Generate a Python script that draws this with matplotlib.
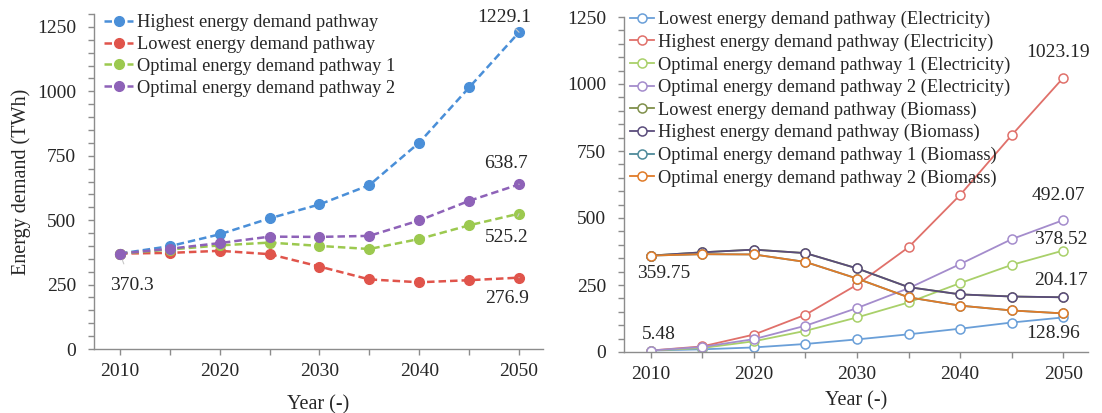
import matplotlib
matplotlib.use('Agg')
import matplotlib.pyplot as plt
from matplotlib.ticker import MultipleLocator

plt.rcParams['font.family'] = ['Liberation Serif', 'DejaVu Serif']

years = [2010, 2015, 2020, 2025, 2030, 2035, 2040, 2045, 2050]

# left panel: total energy demand (TWh)
highest = [370.3, 399, 445, 507, 561, 636, 801, 1015, 1229.1]
lowest = [370.3, 373, 381, 368, 320, 270, 259, 267, 276.9]
optimal1 = [370.3, 386, 402, 413, 400, 388, 427, 480, 525.2]
optimal2 = [370.3, 389, 411, 436, 435, 439, 499, 575, 638.7]
left_names = ['Highest energy demand pathway', 'Lowest energy demand pathway',
              'Optimal energy demand pathway 1', 'Optimal energy demand pathway 2']
left_colors = ['#4a8fd8', '#e0544b', '#9cc94f', '#8e62b8']

# right panel: electricity and biomass
elec_lowest = [5.48, 10, 17, 30, 47, 66, 87, 110, 128.96]
elec_highest = [5.48, 21, 65, 139, 251, 391, 586, 809, 1023.19]
elec_opt1 = [5.48, 15, 40, 79, 129, 185, 257, 325, 378.52]
elec_opt2 = [5.48, 19, 48, 98, 164, 238, 328, 421, 492.07]
bio_lowest = [359.75, 372, 382, 369, 312, 242, 215, 207, 204.17]
bio_highest = [359.75, 372, 382, 369, 312, 242, 215, 207, 204.17]
bio_opt1 = [359.75, 365, 364, 336, 274, 204, 173, 155, 144]
bio_opt2 = [359.75, 365, 364, 336, 274, 204, 173, 155, 144]
right_names = ['Lowest energy demand pathway (Electricity)',
               'Highest energy demand pathway (Electricity)',
               'Optimal energy demand pathway 1 (Electricity)',
               'Optimal energy demand pathway 2 (Electricity)',
               'Lowest energy demand pathway (Biomass)',
               'Highest energy demand pathway (Biomass)',
               'Optimal energy demand pathway 1 (Biomass)',
               'Optimal energy demand pathway 2 (Biomass)']
right_colors = ['#6a9fd8', '#e0706a', '#a9d06a', '#a48ccc',
                '#7f8f4a', '#5a4c7c', '#4e8a9a', '#e07b28']

TXT = '#262626'
AX = '#8c8c8c'

fig = plt.figure(figsize=(11.02, 4.13), dpi=100)
axl = fig.add_axes([94/1102, 1-349/413, 449/1102, 335/413])
axr = fig.add_axes([624/1102, 1-352/413, 464/1102, 335/413])


def style(ax, ymax, xpad):
    for s in ['top', 'right']:
        ax.spines[s].set_visible(False)
    for s in ['left', 'bottom']:
        ax.spines[s].set_color(AX)
        ax.spines[s].set_linewidth(1.0)
    ax.set_xlim(2007.4, 2052.4)
    ax.set_ylim(0, ymax)
    ax.xaxis.set_major_locator(MultipleLocator(10))
    ax.xaxis.set_minor_locator(MultipleLocator(5))
    ax.yaxis.set_major_locator(MultipleLocator(250))
    ax.yaxis.set_minor_locator(MultipleLocator(50))
    ax.tick_params(which='both', direction='out', length=4, color=AX, width=1.0)
    ax.tick_params(axis='y', which='major', labelsize=14, labelcolor=TXT, pad=9)
    ax.tick_params(axis='x', which='major', labelsize=14, labelcolor=TXT, pad=6)
    ax.set_xlabel('Year (-)', fontsize=14.5, color=TXT, labelpad=xpad)


style(axl, 1300, 11)
style(axr, 1250, 6)

for vals, name, c in zip([highest, lowest, optimal1, optimal2], left_names, left_colors):
    axl.plot(years, vals, ls=(0, (3, 1.6)), lw=1.8, color=c, marker='o', ms=7,
             mec=c, mfc=c, label=name)

axl.set_ylabel('Energy demand (TWh)', fontsize=14.5, color=TXT, labelpad=4)

leader = dict(arrowstyle='-', color='#c8c8c8', lw=0.8, shrinkA=8, shrinkB=5)
left_notes = [(2010, 370.3, '370.3', (12, -32)),
              (2050, 1229.1, '1229.1', (-15, 15)),
              (2050, 638.7, '638.7', (-13, 21)),
              (2050, 525.2, '525.2', (-12, -24)),
              (2050, 276.9, '276.9', (-12, -21))]
for x, y, t, off in left_notes:
    axl.annotate(t, (x, y), xytext=off, textcoords='offset pixels', ha='center',
                 va='center', fontsize=14, color=TXT, arrowprops=leader)

right_series = [elec_lowest, elec_highest, elec_opt1, elec_opt2,
                bio_lowest, bio_highest, bio_opt1, bio_opt2]
for vals, name, c in zip(right_series, right_names, right_colors):
    axr.plot(years, vals, ls='-', lw=1.3, color=c, marker='o', ms=6.5,
             mec=c, mfc='white', mew=1.1, label=name)

right_notes = [(2050, 1023.19, '1023.19', (-5, 25)),
               (2050, 492.07, '492.07', (-5, 25)),
               (2050, 378.52, '378.52', (-2, 11)),
               (2050, 204.17, '204.17', (-2, 17)),
               (2050, 128.96, '128.96', (-10, -16)),
               (2010, 359.75, '359.75', (13, -18)),
               (2010, 5.48, '5.48', (8, 16))]
for x, y, t, off in right_notes:
    axr.annotate(t, (x, y), xytext=off, textcoords='offset pixels', ha='center',
                 va='center', fontsize=14, color=TXT)

axl.legend(loc='upper left', bbox_to_anchor=(104/1102, 1-14/413),
           bbox_transform=fig.transFigure, frameon=False, fontsize=13.2,
           handlelength=1.6, handletextpad=0.2, labelspacing=0.27,
           borderpad=0, borderaxespad=0, labelcolor=TXT)
axr.legend(loc='upper left', bbox_to_anchor=(630/1102, 1-11/413),
           bbox_transform=fig.transFigure, frameon=False, fontsize=13.2,
           handlelength=1.3, handletextpad=0.2, labelspacing=0.29,
           borderpad=0, borderaxespad=0, labelcolor=TXT)

fig.savefig('out.png', dpi=100)
